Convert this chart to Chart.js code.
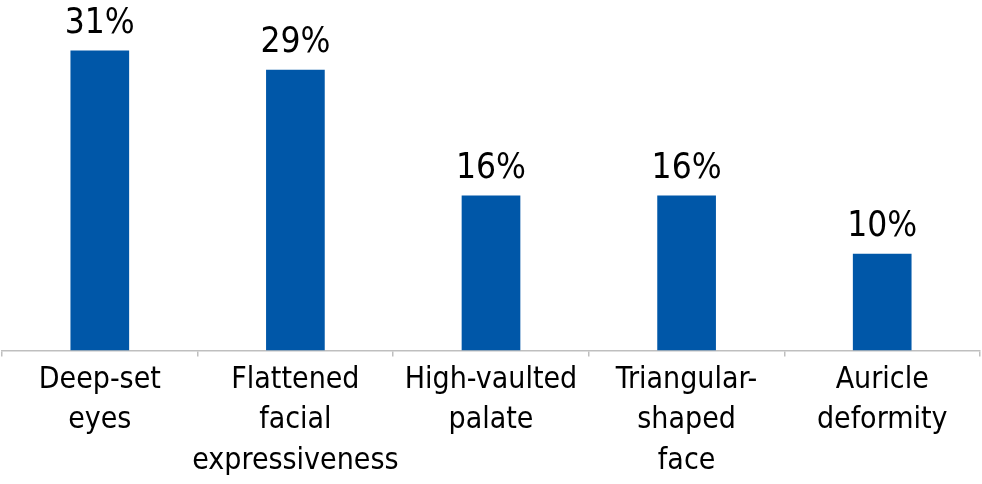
<!DOCTYPE html>
<html>
<head>
<meta charset="utf-8">
<script src="https://cdn.jsdelivr.net/npm/chart.js@4"></script>
<style>
  html, body { margin: 0; padding: 0; background: #fff; }
  #wrap { width: 982px; height: 484px; }
</style>
</head>
<body>
<div id="wrap"><canvas id="chart"></canvas></div>
<script>
const categories = [
  ['Deep-set', 'eyes'],
  ['Flattened', 'facial', 'expressiveness'],
  ['High-vaulted', 'palate'],
  ['Triangular-', 'shaped', 'face'],
  ['Auricle', 'deformity']
];
const percents = [31, 29, 16, 16, 10];

const fontFamily = '"Liberation Sans Narrow", "DejaVu Sans Condensed", "Roboto", sans-serif';

// draw the % above each bar
const barLabels = {
  id: 'barLabels',
  afterDatasetsDraw(chart) {
    const ctx = chart.ctx;
    const meta = chart.getDatasetMeta(0);
    ctx.save();
    ctx.fillStyle = '#000';
    ctx.font = '35px ' + fontFamily;
    ctx.textAlign = 'center';
    ctx.textBaseline = 'bottom';
    meta.data.forEach((bar, i) => {
      ctx.fillText(percents[i] + '%', bar.x, bar.y - 9);
    });
    ctx.restore();
  }
};

new Chart(document.getElementById('chart'), {
  type: 'bar',
  data: {
    labels: categories,
    datasets: [{
      data: percents,
      backgroundColor: '#0057a8',
      categoryPercentage: 1,
      barPercentage: 0.3
    }]
  },
  options: {
    responsive: true,
    maintainAspectRatio: false,
    animation: false,
    layout: { padding: { left: 2, right: 2, top: 2, bottom: 0 } },
    plugins: { legend: { display: false }, tooltip: { enabled: false } },
    scales: {
      x: {
        grid: {
          offset: true,
          drawOnChartArea: false,
          color: '#bfbfbf',
          tickLength: 6,
          lineWidth: 1.5
        },
        border: { color: '#bfbfbf', width: 1.5 },
        ticks: {
          color: '#000',
          maxRotation: 0,
          autoSkip: false,
          padding: 3,
          font: { family: fontFamily, size: 30, lineHeight: 1.35 }
        }
      },
      y: {
        display: false,
        min: 0,
        max: 36
      }
    }
  },
  plugins: [barLabels]
});
</script>
</body>
</html>
